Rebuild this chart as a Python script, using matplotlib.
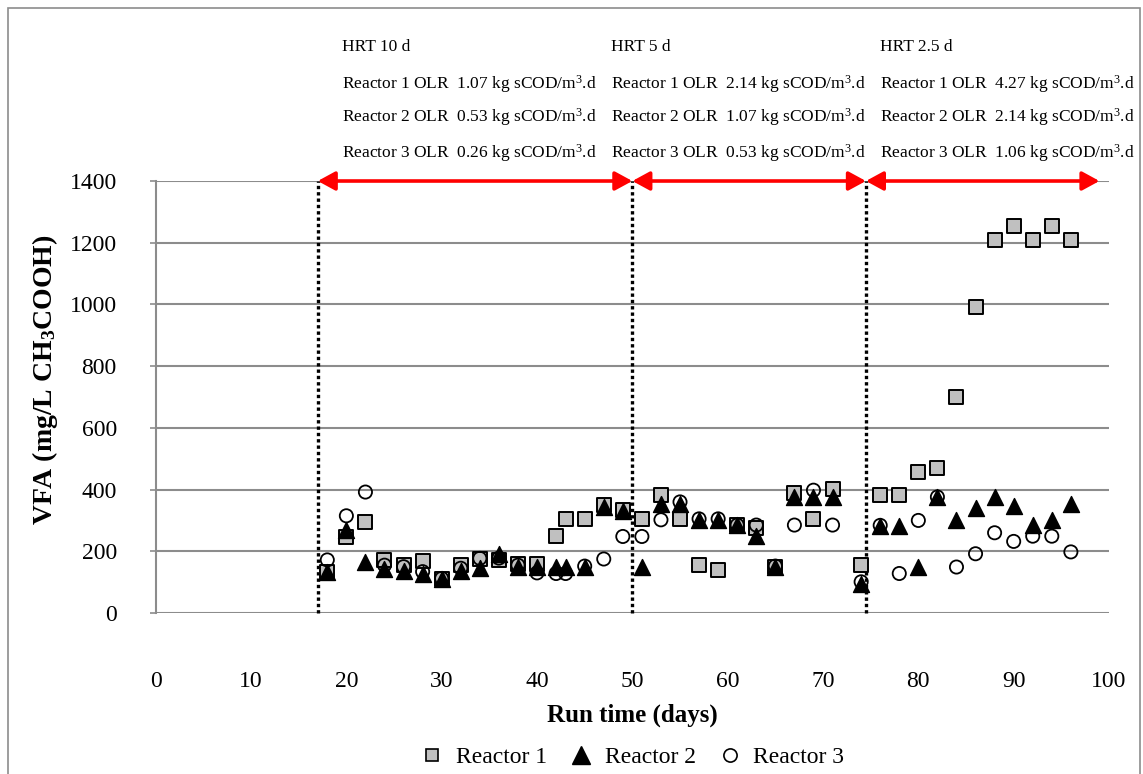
import matplotlib
matplotlib.use("Agg")
import matplotlib.pyplot as plt
from matplotlib.lines import Line2D

plt.rcParams['font.family'] = ['Liberation Serif', 'DejaVu Serif']
plt.rcParams['mathtext.fontset'] = 'custom'
plt.rcParams['mathtext.rm'] = 'Liberation Serif'
plt.rcParams['mathtext.bf'] = 'Liberation Serif:bold'
plt.rcParams['mathtext.it'] = 'Liberation Serif:italic'

days = [18, 20, 22, 24, 26, 28, 30, 32, 34, 36, 38, 40, 42, 43, 45, 47, 49, 51, 53, 55,
        57, 59, 61, 63, 65, 67, 69, 71, 74, 76, 78, 80, 82, 84, 86, 88, 90, 92, 94, 96]
reactor1 = [134, 245, 295, 172, 155, 168, 109, 155, 174, 172, 159, 159, 250, 305, 305, 351, 335, 304, 382, 304,
            155, 139, 285, 277, 150, 390, 305, 402, 155, 382, 382, 456, 471, 701, 993, 1209, 1255, 1209, 1254, 1209]
reactor2 = [134, 270, 166, 141, 135, 126, 109, 135, 145, 190, 150, 150, 150, 150, 150, 345, 330, 150, 354, 353,
            301, 301, 284, 249, 148, 376, 376, 376, 95, 282, 282, 149, 376, 300, 340, 376, 347, 284, 300, 353]
reactor3 = [172, 315, 392, 155, 150, 134, 112, 145, 177, 178, 155, 130, 128, 128, 152, 175, 248, 248, 302, 360,
            305, 305, 285, 285, 152, 285, 398, 285, 101, 284, 128, 300, 376, 149, 192, 260, 232, 249, 249, 198]

phase_bounds = [17, 50, 74.5, 99]
hrt_labels = ["HRT 10 d", "HRT 5 d", "HRT 2.5 d"]
olr_r1 = ["1.07", "2.14", "4.27"]
olr_r2 = ["0.53", "1.07", "2.14"]
olr_r3 = ["0.26", "0.53", "1.06"]
x_ticks = [0, 10, 20, 30, 40, 50, 60, 70, 80, 90, 100]
y_ticks = [0, 200, 400, 600, 800, 1000, 1200, 1400]

W, H = 1143, 774
fig = plt.figure(figsize=(W / 100, H / 100), dpi=100)
ax = fig.add_axes([155.7 / W, 1 - 613 / H, (1109 - 155.7) / W, (613 - 181) / H])
ax.set_xlim(0, 100)
ax.set_ylim(0, 1400)

grid_c = '#8c8c8c'
for v in y_ticks:
    ax.axhline(v, color=grid_c, lw=1.5, zorder=0)

for s in ['top', 'right', 'bottom']:
    ax.spines[s].set_visible(False)
ax.spines['left'].set_color(grid_c)
ax.spines['left'].set_linewidth(1.5)

ax.set_xticks(x_ticks)
ax.set_yticks(y_ticks)
ax.tick_params(axis='x', length=0, pad=42, labelsize=17)
ax.tick_params(axis='y', length=4, width=1.2, color=grid_c, pad=24, labelsize=17)

# phase boundaries
for xb in phase_bounds[:3]:
    ax.plot([xb, xb], [0, 1400], color='black', lw=2.4, linestyle=(0, (1, 0.9)), zorder=1, clip_on=False)

# red arrows
for a, b in zip(phase_bounds[:-1], phase_bounds[1:]):
    ax.annotate('', xy=(b, 1400), xytext=(a, 1400),
                arrowprops=dict(arrowstyle='<|-|>,head_length=0.55,head_width=0.3', color='red', lw=2.6,
                                mutation_scale=19, shrinkA=0, shrinkB=0),
                annotation_clip=False, zorder=5)

ax.scatter(days, reactor1, marker='s', s=9.5 ** 2, facecolor='#c0c0c0', edgecolor='black', linewidth=1.4, zorder=3)
ax.scatter(days, reactor2, marker='^', s=11.5 ** 2, facecolor='black', edgecolor='black', linewidth=1.0, zorder=4)
ax.scatter(days, reactor3, marker='o', s=9.5 ** 2, facecolor='none', edgecolor='black', linewidth=1.3, zorder=5)

ax.set_xlabel('Run time (days)', fontsize=18, fontweight='bold', labelpad=8)
fig.text(45 / W, 1 - 380 / H, r'VFA (mg/L CH$_{\mathbf{3}}$COOH)', rotation=90, fontsize=20,
         fontweight='bold', ha='center', va='center')

# phase annotations
xs = [342, 611, 880]
for i, x0 in enumerate(xs):
    fx = x0 / W
    fig.text(fx, 1 - 47 / H, hrt_labels[i], fontsize=12.5, ha='left', va='center')
    fig.text(fx, 1 - 84 / H, f"Reactor 1 OLR  {olr_r1[i]} kg sCOD/m$^{{3}}$.d", fontsize=12.5, ha='left', va='center')
    fig.text(fx, 1 - 117 / H, f"Reactor 2 OLR  {olr_r2[i]} kg sCOD/m$^{{3}}$.d", fontsize=12.5, ha='left', va='center')
    fig.text(fx, 1 - 153 / H, f"Reactor 3 OLR  {olr_r3[i]} kg sCOD/m$^{{3}}$.d", fontsize=12.5, ha='left', va='center')

handles = [
    Line2D([], [], marker='s', ls='none', ms=9, mfc='#c0c0c0', mec='black', mew=1.2, label='Reactor 1'),
    Line2D([], [], marker='^', ls='none', ms=12.5, mfc='black', mec='black', label='Reactor 2'),
    Line2D([], [], marker='o', ls='none', ms=9.5, mfc='none', mec='black', mew=1.2, label='Reactor 3'),
]
fig.legend(handles=handles, loc='center', bbox_to_anchor=(630 / W, 1 - 757 / H), ncol=3, frameon=False,
           fontsize=17, handletextpad=0.3, columnspacing=0.75, handlelength=1.4, borderaxespad=0)

# chart border
border = plt.Rectangle((8 / W, -0.01), (1140 - 8) / W, 1 - 8 / H + 0.01, transform=fig.transFigure,
                       fill=False, edgecolor='#8c8c8c', lw=1.2)
fig.patches.append(border)

fig.savefig('out.png', dpi=100)
